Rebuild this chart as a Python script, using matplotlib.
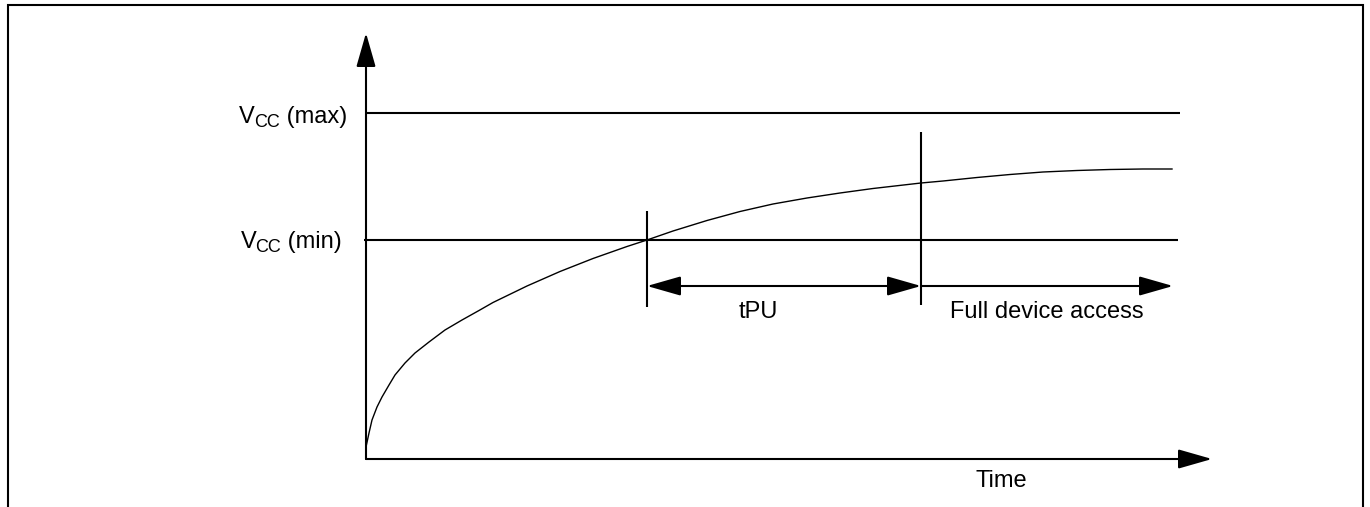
import matplotlib
matplotlib.use("Agg")
import matplotlib.pyplot as plt
from matplotlib.lines import Line2D

plt.rcParams["font.family"] = ["Liberation Sans", "DejaVu Sans"]

# %% Data (time / voltage in arbitrary units)
ramp_t = [0.0, 0.03, 0.06, 0.11, 0.16, 0.23, 0.29, 0.39, 0.49, 0.63, 0.79,
          0.96, 1.13, 1.27, 1.61, 1.94, 2.27, 2.61, 2.81, 3.07, 3.41, 3.74,
          4.07, 4.41, 4.74, 5.07, 5.55, 5.77, 6.11, 6.44, 6.77, 7.11, 7.44,
          7.77, 8.06]
ramp_v = [0.12, 0.26, 0.39, 0.52, 0.62, 0.74, 0.84, 0.96, 1.06, 1.17, 1.29,
          1.39, 1.485, 1.565, 1.73, 1.875, 2.005, 2.125, 2.19, 2.28, 2.385, 2.475,
          2.55, 2.61, 2.66, 2.705, 2.76, 2.78, 2.815, 2.845, 2.87, 2.885, 2.895,
          2.90, 2.90]

VCC_MAX = 3.46
VCC_MIN = 2.19
T_CROSS = 2.81   # ramp reaches Vcc(min)
T_READY = 5.55   # end of tPU
T_END = 8.07     # end of "full device access" arrow
T_AXIS = 8.46
V_AXIS = 4.26
LEVEL_END = [8.14, 8.12]

level_tags = ["max", "min"]
span_labels = ["tPU", "Full device access"]
x_label = "Time"

# %% Figure
fig = plt.figure(figsize=(13.7, 5.07), dpi=100)
ax = fig.add_axes([0, 0, 1, 1])
ax.set_xlim(-3.66, 10.04)
ax.set_ylim(-0.48, 4.59)
ax.axis("off")

LW = 1.5
arrow_kw = dict(color="black", lw=LW, shrinkA=0, shrinkB=0, mutation_scale=10)
head = "head_length=2.1,head_width=0.6"

# axes with arrow heads
ax.annotate("", xy=(0, V_AXIS), xytext=(0, 0),
            arrowprops=dict(arrowstyle="-|>," + head, **arrow_kw))
ax.annotate("", xy=(T_AXIS, 0), xytext=(0, 0),
            arrowprops=dict(arrowstyle="-|>," + head, **arrow_kw))

# Vcc levels
ax.hlines(VCC_MAX, 0, LEVEL_END[0], color="black", lw=LW)
ax.hlines(VCC_MIN, -0.02, LEVEL_END[1], color="black", lw=LW)

# supply ramp
ax.plot(ramp_t, ramp_v, color="black", lw=1.0, solid_joinstyle="round")

# timing markers
ax.vlines(T_CROSS, 1.52, 2.48, color="black", lw=LW)
ax.vlines(T_READY, 1.54, 3.27, color="black", lw=LW)

y_arrow = 1.73
ax.annotate("", xy=(T_READY, y_arrow), xytext=(T_CROSS, y_arrow),
            arrowprops=dict(arrowstyle="<|-|>," + head, **arrow_kw))
ax.annotate("", xy=(T_END, y_arrow), xytext=(T_READY, y_arrow),
            arrowprops=dict(arrowstyle="-|>," + head, **arrow_kw))

FS = 17
SUB_FS = 13


def vcc_label(x, y, tag):
    # "V" + lowered "CC" + " (tag)", built right to left so the right edge sits at x
    tail = ax.text(x, y, f" ({tag})", ha="right", va="baseline", fontsize=FS)
    sub = ax.annotate("CC", xy=(0, y), xycoords=(tail, "data"),
                      xytext=(0, -3.2), textcoords="offset points",
                      ha="right", va="baseline", fontsize=SUB_FS)
    ax.annotate("V", xy=(0, y), xycoords=(sub, "data"),
                xytext=(0.6, 0), textcoords="offset points",
                ha="right", va="baseline", fontsize=FS)


vcc_label(-0.19, 3.36, level_tags[0])
vcc_label(-0.24, 2.11, level_tags[1])

ax.text(3.92, 1.41, span_labels[0], ha="center", va="baseline", fontsize=FS)
ax.text((T_READY + T_END) / 2, 1.41, span_labels[1], ha="center", va="baseline", fontsize=FS)
ax.text(6.35, -0.28, x_label, ha="center", va="baseline", fontsize=FS)

# open frame round the drawing (no bottom edge)
x0, x1, y1 = 7.5 / 1370, 1363 / 1370, 1 - 5 / 507
fig.add_artist(Line2D([x0, x0, x1, x1], [0, y1, y1, 0], color="black", lw=LW,
                      transform=fig.transFigure, solid_joinstyle="miter"))

fig.savefig("out.png", dpi=100)
